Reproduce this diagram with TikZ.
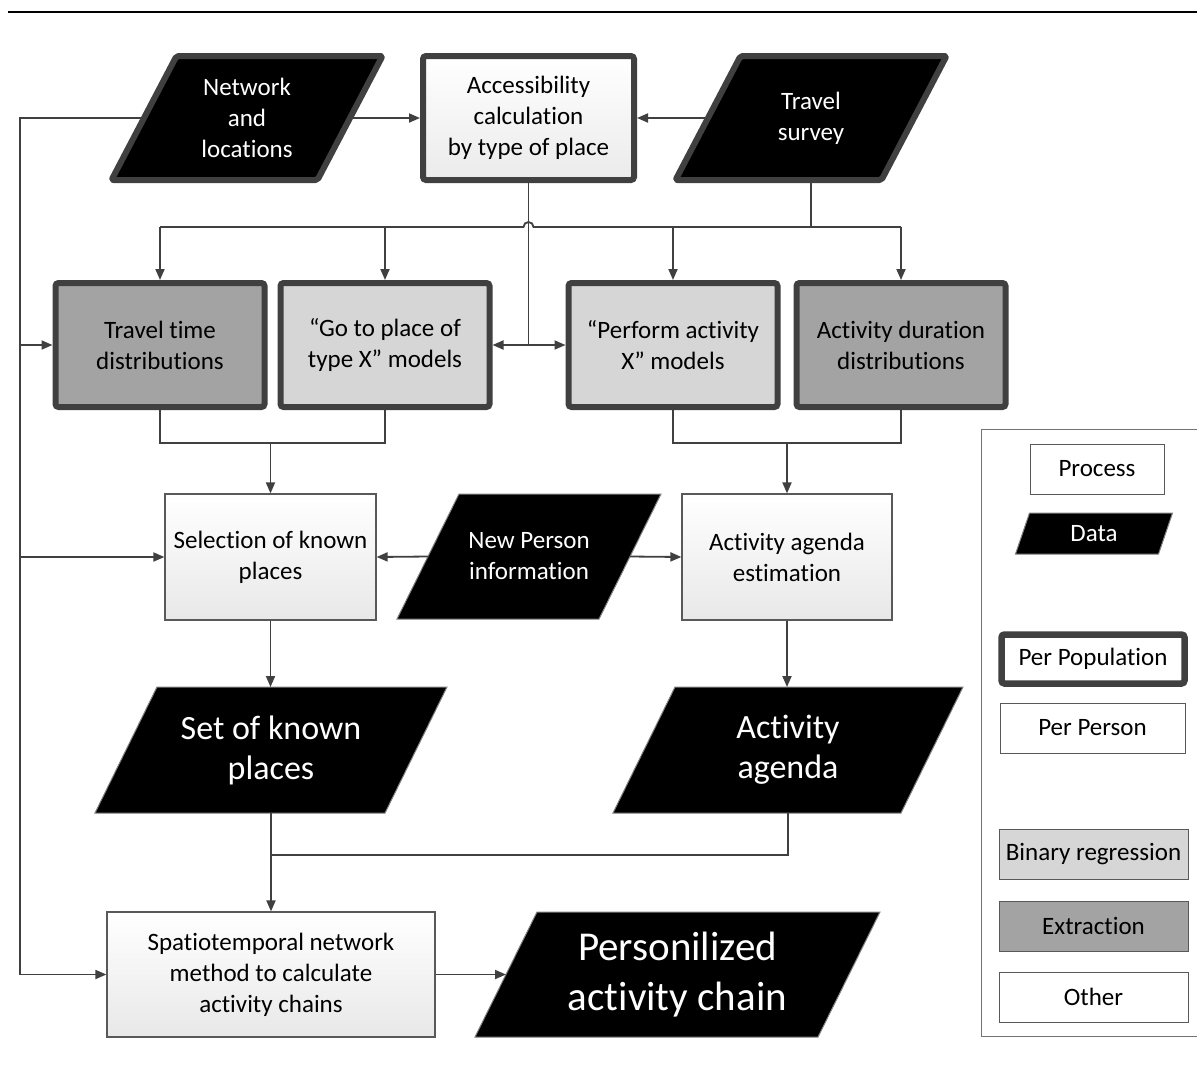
\documentclass[tikz,border=0pt]{standalone}
\usepackage{fontspec}
\setmainfont{Carlito}[Ligatures=NoCommon]
\usetikzlibrary{arrows.meta,backgrounds,calc}
\newcommand\fsN{\fontsize{25}{31}\selectfont}
\newcommand\fsL{\fontsize{34}{40}\selectfont}
\newcommand\fsH{\fontsize{41}{50}\selectfont}
\definecolor{ln}{HTML}{404040}
\definecolor{bd}{HTML}{595959}
\definecolor{binc}{HTML}{D6D6D6}
\definecolor{extc}{HTML}{A3A3A3}
\tikzset{
  pop/.style={draw=ln, line width=6pt, rounded corners=3pt, inner sep=0pt, align=center, font=\fsN,
              minimum width=209, minimum height=124},
  binbox/.style={pop, fill=binc},
  extbox/.style={pop, fill=extc},
  proc/.style={draw=bd, line width=1.2pt, top color=white, bottom color=black!9, inner sep=0pt,
               align=center, font=\fsN},
  datatext/.style={text=white, inner sep=0pt, outer sep=0pt, align=center},
  dthick/.style={fill=black, draw=ln, line width=6pt, rounded corners=2pt, line join=round},
  dthin/.style={fill=black, draw=black!50, line width=1pt},
  conn/.style={ln, line width=1.8pt},
  arr/.style={-{Triangle[length=11pt,width=9pt]}},
  leg/.style={draw=bd, line width=1pt, fill=white, inner sep=0pt, font=\fsN, minimum height=50},
}
% #1 style, #2 name, #3 x, #4 y, #5 half width, #6 half height, #7 half offset, #8 font, #9 text
\newcommand\dnode[9]{%
  \node[datatext, font=#8, minimum width={2*#5}, minimum height={2*#6}] (#2) at (#3,#4) {#9};
  \begin{pgfonlayer}{background}
  \path[#1] ([shift={(-#5+#7,-#6)}]#2.center) -- ([shift={(#5+#7,-#6)}]#2.center)
     -- ([shift={(#5-#7,#6)}]#2.center) -- ([shift={(-#5-#7,#6)}]#2.center) -- cycle;
  \end{pgfonlayer}}
\begin{document}
\begin{tikzpicture}[x=1pt,y=-1pt]
\useasboundingbox (0,0) rectangle (1197,1072);
\begin{pgfonlayer}{background}
\fill[white] (0,0) rectangle (1197,1072);
\end{pgfonlayer}
\draw[black, line width=1.2pt] (8,12) -- (1197,12);

% processes per population
\node[pop, top color=white, bottom color=black!8, minimum width=211] (acc) at (528.5,118)
  {Accessibility\\calculation\\by type of place};
\node[extbox] (tt) at (160,345) {Travel time\\distributions};
\node[binbox] (go) at (385,345) {“Go to place of\\type X” models};
\node[binbox] (pa) at (673,345) {“Perform activity\\X” models};
\node[extbox] (ad) at (901,345) {Activity duration\\distributions};

% processes per person
\node[proc, minimum width=211, minimum height=126] (sel) at (270.5,557) {Selection of known\\places};
\node[proc, minimum width=210, minimum height=126] (aae) at (787,557) {Activity agenda\\estimation};
\node[proc, minimum width=328, minimum height=125] (st) at (271,974.5)
  {Spatiotemporal network\\method to calculate\\activity chains};

% data
\dnode{dthick}{net}{247}{118}{103}{62}{32.5}{\fsN}{Network\\and\\locations}
\dnode{dthick}{ts}{811}{118}{103}{62}{32.5}{\fsN}{Travel\\survey}
\dnode{dthin}{np}{529}{556.5}{101}{62.5}{31}{\fsN}{New Person\\information}
\dnode{dthin}{sk}{271}{750}{145}{63}{31}{\fsL}{Set of known\\places}
\dnode{dthin}{ag}{788}{750}{144}{63}{31}{\fsL}{Activity\\agenda}
\dnode{dthin}{pc}{677.5}{974.5}{171.5}{62.5}{31}{\fsH}{Personilized\\activity chain}

% connectors
\coordinate (bus) at (20,0);
\coordinate (hb) at (0,227);
\coordinate (m1) at (0,443);
\coordinate (jn) at (0,855);

\draw[conn, arr] (net.west) -- (net.west -| bus) |- (st.west);
\draw[conn, arr] (tt.west -| bus) -- (tt.west);
\draw[conn, arr] (sel.west -| bus) -- (sel.west);
\draw[conn, arr] (net.east) -- (acc.west);
\draw[conn, arr] (ts.west) -- (acc.east);

\draw[conn] (acc.south) -- (acc.south |- go.east);
\draw[conn, arr] (acc.south |- go.east) -- (go.east);
\draw[conn, arr] (acc.south |- pa.west) -- (pa.west);

\draw[conn] (ts.south) -- (ts.south |- hb);
\draw[conn] (tt.north |- hb) -- ($(acc.south |- hb)+(-5,0)$)
   arc[start angle=180, end angle=360, radius=5] -- (ad.north |- hb);
\foreach \n in {tt,go,pa,ad} \draw[conn, arr] (\n.north |- hb) -- (\n.north);

\draw[conn] (tt.south) -- (tt.south |- m1) -- (go.south |- m1) -- (go.south);
\draw[conn, arr] (sel.north |- m1) -- (sel.north);
\draw[conn] (pa.south) -- (pa.south |- m1) -- (ad.south |- m1) -- (ad.south);
\draw[conn, arr] (aae.north |- m1) -- (aae.north);

\draw[conn, arr] (np.west) -- (sel.east);
\draw[conn, arr] (np.east) -- (aae.west);
\draw[conn, arr] (sel.south) -- (sel.south |- sk.north);
\draw[conn, arr] (aae.south) -- (aae.south |- ag.north);
\draw[conn, arr] (sk.south) -- (sk.south |- st.north);
\draw[conn] (ag.south) |- (sk.south |- jn);
\draw[conn, arr] (st.east) -- (pc.west);

% legend
\node[draw=black!55, line width=1pt, minimum width=240, minimum height=607, anchor=north west,
      inner sep=0pt] (legend) at (981,429) {};
\node[leg, minimum width=134] (lp) at (1097,469) {Process};
\dnode{dthin}{ld}{1094}{533.5}{71.5}{20.5}{7}{\fsN}{Data}
\node[pop, fill=white, line width=6.5pt, minimum width=183, minimum height=49] (lpp) at (1093,659) {Per Population};
\node[leg, minimum width=185] (lpr) at (1092.5,728) {Per Person};
\node[leg, minimum width=189, fill=binc] (lb) at (1093.5,854) {Binary regression};
\node[leg, minimum width=189, fill=extc] (le) at (1093.5,926) {Extraction};
\node[leg, minimum width=189] (lo) at (1093.5,997) {Other};
\end{tikzpicture}
\end{document}
